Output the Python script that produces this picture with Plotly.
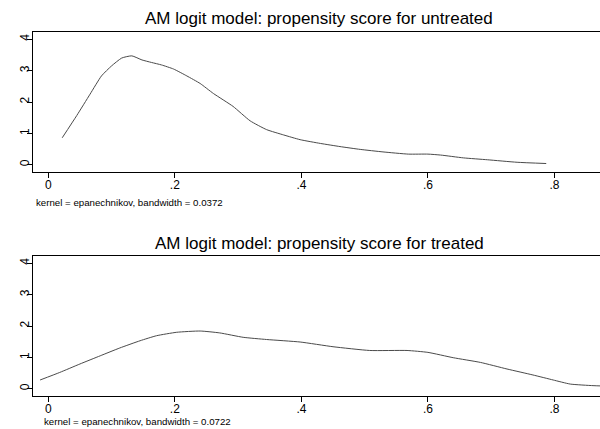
import plotly.graph_objects as go

# Untreated density
x_untreated = [0.022, 0.045, 0.066, 0.084, 0.100, 0.116, 0.132, 0.148, 0.163, 0.179, 0.198,
               0.219, 0.240, 0.261, 0.292, 0.319, 0.345, 0.372, 0.398, 0.430, 0.461, 0.493, 0.529,
               0.569, 0.600, 0.620, 0.656, 0.694, 0.741, 0.787]
y_untreated = [0.86, 1.57, 2.25, 2.83, 3.15, 3.40, 3.47, 3.34, 3.26, 3.18, 3.05,
               2.83, 2.59, 2.27, 1.86, 1.40, 1.12, 0.95, 0.80, 0.68, 0.58, 0.49, 0.41,
               0.34, 0.34, 0.31, 0.22, 0.16, 0.08, 0.04]

# Treated density
x_treated = [-0.013, 0.018, 0.050, 0.082, 0.113, 0.145, 0.171, 0.203, 0.240, 0.271, 0.308, 0.345,
             0.398, 0.450, 0.508, 0.567, 0.600, 0.640, 0.683, 0.725, 0.766, 0.798, 0.825, 0.861, 0.875]
y_treated = [0.28, 0.52, 0.79, 1.05, 1.30, 1.53, 1.69, 1.80, 1.84, 1.78, 1.64, 1.57,
             1.49, 1.34, 1.22, 1.22, 1.16, 0.99, 0.84, 0.63, 0.44, 0.28, 0.15, 0.10, 0.09]

x_ticks = [0, 0.2, 0.4, 0.6, 0.8]
x_ticklabels = ["0", ".2", ".4", ".6", ".8"]
y_ticks = [0, 1, 2, 3, 4]
y_ticklabels = ["0", "1", "2", "3", "4"]

titles = ["AM logit model: propensity score for untreated",
          "AM logit model: propensity score for treated"]
notes = ["kernel = epanechnikov, bandwidth = 0.0372",
         "kernel = epanechnikov, bandwidth = 0.0722"]

W, H = 600, 429
ML = 33
PW = W - ML
line_style = dict(color="#4a4a4a", width=1, shape="spline", smoothing=0.5)

fig = go.Figure()
fig.add_trace(go.Scatter(x=x_untreated, y=y_untreated, mode="lines", line=line_style,
                         xaxis="x", yaxis="y", showlegend=False, hoverinfo="skip"))
fig.add_trace(go.Scatter(x=x_treated, y=y_treated, mode="lines", line=line_style,
                         xaxis="x2", yaxis="y2", showlegend=False, hoverinfo="skip"))

FONT = "Liberation Sans, Arial, sans-serif"
font_tick = dict(family=FONT, size=12, color="black")

def xax(anchor):
    return dict(domain=[0, 1], anchor=anchor, range=[-0.0242, 0.872],
                tickmode="array", tickvals=x_ticks, ticktext=x_ticklabels,
                ticks="outside", ticklen=5, tickwidth=1, tickcolor="black",
                showline=True, linecolor="black", linewidth=1, mirror=True,
                showgrid=False, zeroline=False, tickfont=font_tick,
                ticklabelstandoff=-3)

def yax(anchor, dom):
    return dict(domain=dom, anchor=anchor, range=[-0.23, 4.23],
                tickmode="array", tickvals=y_ticks, ticktext=y_ticklabels,
                ticks="outside", ticklen=5, tickwidth=1, tickcolor="black",
                showline=True, linecolor="black", linewidth=1,
                showgrid=False, zeroline=False, tickangle=-90, tickfont=font_tick,
                ticklabelstandoff=-7)

top_dom = [1 - 172 / H, 1 - 32 / H]
bot_dom = [1 - 396 / H, 1 - 256 / H]

def px_x(px):
    return (px - ML) / PW

annotations = [
    dict(text=titles[0], x=px_x(319), y=1 - 19 / H, xref="paper", yref="paper",
         xanchor="center", yanchor="middle", showarrow=False,
         font=dict(family=FONT, size=17, color="black")),
    dict(text=titles[1], x=px_x(319), y=1 - 243 / H, xref="paper", yref="paper",
         xanchor="center", yanchor="middle", showarrow=False,
         font=dict(family=FONT, size=17, color="black")),
    dict(text=notes[0], x=px_x(34), y=1 - 202 / H, xref="paper", yref="paper",
         xanchor="left", yanchor="middle", showarrow=False,
         font=dict(family=FONT, size=9.7, color="black")),
    dict(text=notes[1], x=px_x(42), y=0, xref="paper", yref="paper",
         xanchor="left", yanchor="bottom", showarrow=False,
         font=dict(family=FONT, size=9.7, color="black")),
]

fig.update_layout(
    width=W, height=H,
    margin=dict(l=ML, r=0, t=0, b=0),
    paper_bgcolor="white", plot_bgcolor="white",
    xaxis=xax("y"), yaxis=yax("x", top_dom),
    xaxis2=xax("y2"), yaxis2=yax("x2", bot_dom),
    annotations=annotations,
    showlegend=False,
)

fig.write_html("out.html")
